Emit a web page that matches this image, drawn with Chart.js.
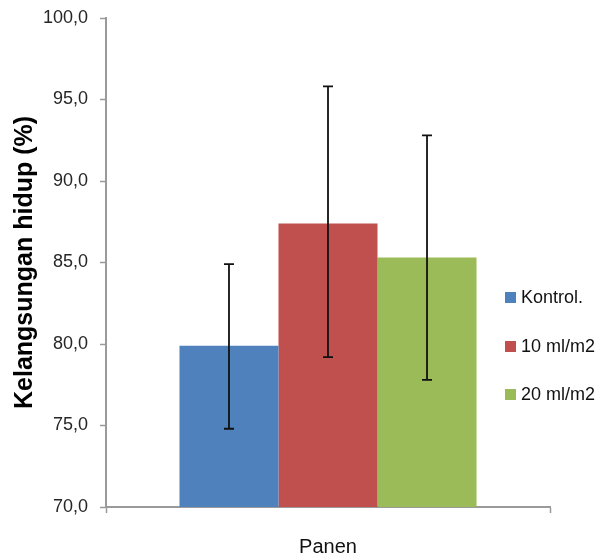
<!DOCTYPE html>
<html>
<head>
<meta charset="utf-8">
<script src="https://cdn.jsdelivr.net/npm/chart.js@4"></script>
<style>
html,body{margin:0;padding:0;background:#fff;}
#c{display:block;}
</style>
</head>
<body>
<canvas id="c" width="601" height="560"></canvas>
<script>
const categories = ['Panen'];
const seriesLabels = ['Kontrol.', '10 ml/m2', '20 ml/m2'];
const seriesColors = ['#4F81BD', '#C0504D', '#9BBB59'];
const means = [79.9, 87.4, 85.3];
const errLow = [74.8, 79.2, 77.8];
const errHigh = [84.9, 95.8, 92.8];
const yMin = 70, yMax = 100, yStep = 5;
const yTitle = 'Kelangsungan hidup (%)';

const errorBars = {
  id: 'errorBars',
  afterDatasetsDraw(chart) {
    const ctx = chart.ctx, ys = chart.scales.y;
    ctx.save();
    ctx.strokeStyle = '#111';
    ctx.lineWidth = 1.8;
    chart.data.datasets.forEach((ds, i) => {
      const bar = chart.getDatasetMeta(i).data[0];
      const x = bar.x;
      const yl = ys.getPixelForValue(errLow[i]);
      const yh = ys.getPixelForValue(errHigh[i]);
      ctx.beginPath();
      ctx.moveTo(x, yl); ctx.lineTo(x, yh);
      ctx.moveTo(x - 5, yl); ctx.lineTo(x + 5, yl);
      ctx.moveTo(x - 5, yh); ctx.lineTo(x + 5, yh);
      ctx.stroke();
    });
    ctx.restore();
  }
};

const customLegend = {
  id: 'customLegend',
  afterDraw(chart) {
    const ctx = chart.ctx;
    const rows = [297, 346, 394];
    ctx.save();
    ctx.font = '18px "Liberation Sans", Arial, sans-serif';
    ctx.textBaseline = 'middle';
    ctx.textAlign = 'left';
    chart.data.datasets.forEach((ds, i) => {
      const y = rows[i];
      ctx.fillStyle = ds.backgroundColor;
      ctx.fillRect(505, y - 5, 11, 11);
      ctx.fillStyle = '#111';
      ctx.fillText(ds.label, 521, y + 1);
    });
    ctx.restore();
  }
};

const datasets = seriesLabels.map((lab, i) => ({
  label: lab,
  data: [means[i]],
  backgroundColor: seriesColors[i],
  borderWidth: 0,
  categoryPercentage: 0.669,
  barPercentage: 1.0
}));

new Chart(document.getElementById('c'), {
  type: 'bar',
  data: { labels: categories, datasets },
  options: {
    responsive: false,
    animation: false,
    devicePixelRatio: 1,
    layout: { padding: { top: 18, right: 51, left: 0, bottom: 0 } },
    plugins: { legend: { display: false }, tooltip: { enabled: false } },
    scales: {
      x: {
        offset: true,
        grid: { display: true, drawOnChartArea: false, drawTicks: true, tickLength: 6, tickColor: '#9a9a9a', tickWidth: 1.5, offset: true },
        border: { display: true, color: '#9a9a9a', width: 2 },
        ticks: { color: '#111', padding: 22, font: { family: '"Liberation Sans", Arial, sans-serif', size: 20 } },
        afterFit(s) { s.height = 53; s.paddingLeft = 0; s.paddingRight = 0; }
      },
      y: {
        min: yMin, max: yMax,
        ticks: {
          stepSize: yStep,
          color: '#262626',
          padding: 12,
          font: { family: '"Liberation Sans", Arial, sans-serif', size: 18 },
          callback: v => Number(v).toFixed(1).replace('.', ',')
        },
        grid: { display: true, drawOnChartArea: false, drawTicks: true, tickLength: 6, tickColor: '#9a9a9a', tickWidth: 1.5 },
        border: { display: true, color: '#9a9a9a', width: 2 },
        title: {
          display: true, text: yTitle, color: '#000',
          font: { family: '"Liberation Sans", Arial, sans-serif', size: 25, weight: 'bold' },
          padding: { top: 10, bottom: 0 }
        },
        afterFit(s) { s.width = 106; s.paddingTop = 0; s.paddingBottom = 0; }
      }
    }
  },
  plugins: [errorBars, customLegend]
});
</script>
</body>
</html>
